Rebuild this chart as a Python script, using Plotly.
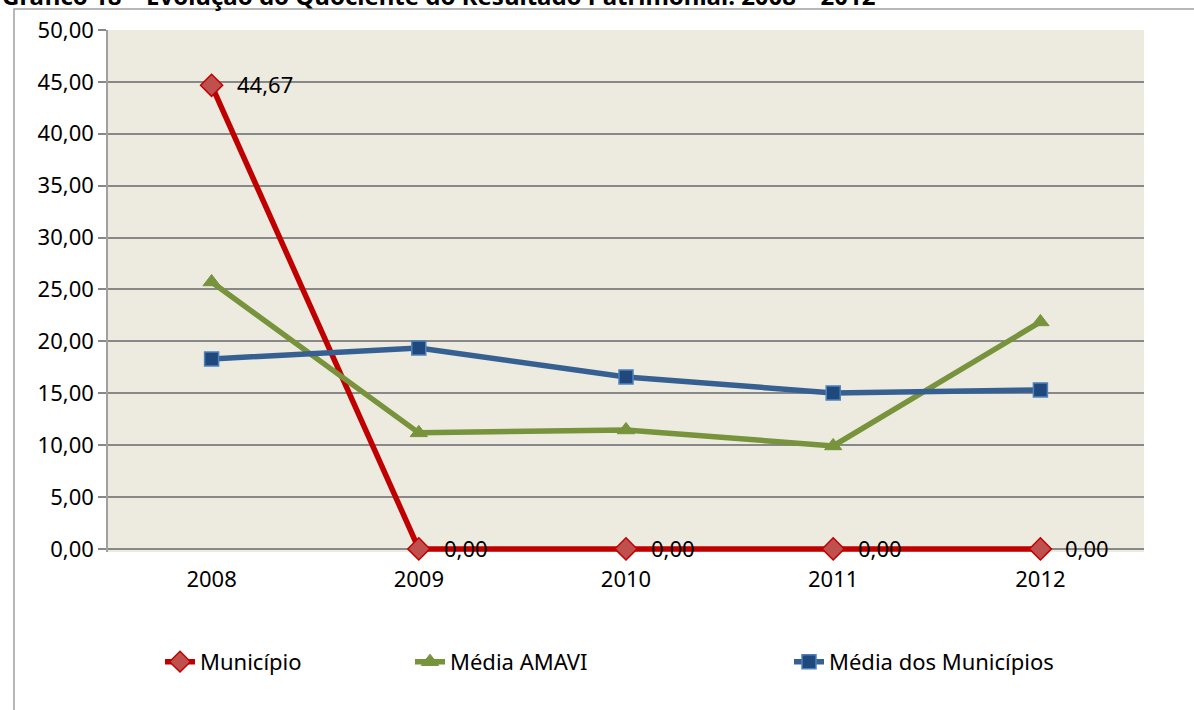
import plotly.graph_objects as go

years = ["2008", "2009", "2010", "2011", "2012"]
municipio = [44.67, 0.00, 0.00, 0.00, 0.00]
media_amavi = [25.72, 11.18, 11.46, 9.92, 21.87]
media_municipios = [18.30, 19.36, 16.57, 15.03, 15.32]
y_ticks = [0, 5, 10, 15, 20, 25, 30, 35, 40, 45, 50]
title_text = "Gráfico 18 – Evolução do Quociente do Resultado Patrimonial: 2008 – 2012"

FONT = "Noto Sans"
FS = 22
W, H = 1194, 710
YMIN, YMAX = -0.3, 50
PX0, PX1, PY_TOP, PY_ZERO = 108, 1144, 30, 549
PY_BOT = PY_ZERO + (PY_ZERO - PY_TOP) * (-YMIN) / YMAX
L, T = PX0, PY_TOP
R, B = W - PX1, H - PY_BOT
pw, ph = W - L - R, H - T - B

def px_x(x):  # page pixel -> paper
    return (x - PX0) / pw

def px_y(y):
    return (PY_BOT - y) / ph

fig = go.Figure()

fig.add_trace(go.Scatter(
    x=years, y=municipio, name="Município", mode="lines+markers",
    line=dict(color="#C00000", width=5.5),
    marker=dict(symbol="diamond", size=17, color="#C0504D", line=dict(color="#C00000", width=1.5)),
    legend="legend", cliponaxis=False,
))
fig.add_trace(go.Scatter(
    x=years, y=media_amavi, name="Média AMAVI", mode="lines+markers",
    line=dict(color="#77933C", width=5.5),
    marker=dict(symbol="triangle-up", size=15, color="#77933C", line=dict(color="#77933C", width=1)),
    legend="legend2", cliponaxis=False,
))
fig.add_trace(go.Scatter(
    x=years, y=media_municipios, name="Média dos Municípios", mode="lines+markers",
    line=dict(color="#376092", width=5.5),
    marker=dict(symbol="square", size=14, color="#1F497D", line=dict(color="#4F81BD", width=1.5)),
    legend="legend3", cliponaxis=False,
))

annotations = [
    dict(x=i, y=v, xref="x", yref="y", text=f"{v:.2f}".replace(".", ","),
         xanchor="left", yanchor="middle", xshift=23, yshift=1, showarrow=False,
         font=dict(family=FONT, size=FS, color="#000000"))
    for i, v in enumerate(municipio)
]
annotations.append(
    dict(text="<b>" + title_text + "</b>", xref="paper", yref="paper",
         x=px_x(0), y=px_y(14), xanchor="left", yanchor="bottom",
         showarrow=False, font=dict(family=FONT, size=24, color="#000000"))
)

legend_common = dict(orientation="h", yanchor="middle", xanchor="left",
                     font=dict(family=FONT, size=FS, color="#000000"),
                     bgcolor="rgba(0,0,0,0)", borderwidth=0)

fig.update_layout(
    width=W, height=H,
    margin=dict(l=L, r=R, t=T, b=B, autoexpand=False),
    paper_bgcolor="#FFFFFF",
    plot_bgcolor="#EDEADF",
    separators=",.",
    font=dict(family=FONT, size=FS, color="#000000"),
    showlegend=True,
    legend=dict(x=px_x(160), y=px_y(662), **legend_common),
    legend2=dict(x=px_x(410), y=px_y(662), **legend_common),
    legend3=dict(x=px_x(789), y=px_y(662), **legend_common),
    xaxis=dict(
        type="category", range=[-0.5, 4.5], showgrid=False,
        showline=False,
        ticks="", tickfont=dict(family=FONT, size=FS),
        ticklabelstandoff=12,
    ),
    yaxis=dict(
        range=[YMIN, YMAX], tickvals=y_ticks, tickformat=".2f",
        showgrid=True, gridcolor="#888888", gridwidth=1.5,
        zeroline=True, zerolinecolor="#888888", zerolinewidth=1.5,
        showline=True, linecolor="#A0A0A0", linewidth=1.5,
        ticks="outside", ticklen=8, tickcolor="#888888", tickwidth=1.5,
        tickfont=dict(family=FONT, size=FS),
    ),
    shapes=[
        dict(type="rect", xref="paper", yref="paper",
             x0=px_x(14), x1=px_x(1260), y0=px_y(800), y1=px_y(9),
             line=dict(color="#A0A0A0", width=1.5), fillcolor="rgba(0,0,0,0)", layer="below"),
    ],
    annotations=annotations,
)

fig.write_html(
    "out.html",
    config={"displayModeBar": False},
    post_script="document.body.style.margin='0';document.body.style.overflow='hidden';",
)
